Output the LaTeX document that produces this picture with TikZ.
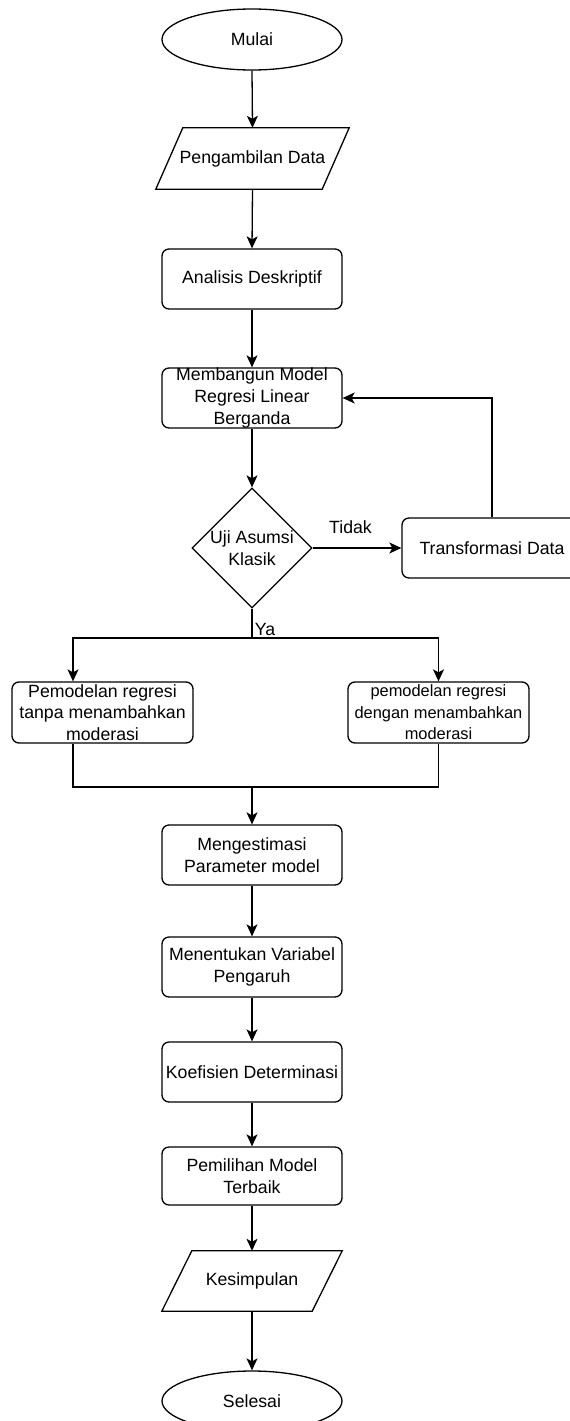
\documentclass[tikz,border=0pt]{standalone}
\usepackage{fontspec}
\setmainfont{Liberation Sans}
\usetikzlibrary{shapes.geometric,arrows.meta}
\begin{document}
\begin{tikzpicture}[x=1pt,y=-1pt,
  every node/.style={font=\fontsize{17.7}{21.7}\selectfont, text=black},
  ln/.style={line width=1.3pt, draw=black},
  arr/.style={ln, -{Stealth[length=12pt,width=11pt,inset=3pt]}},
  box/.style={ln, rounded corners=7pt, minimum width=180pt, minimum height=60pt, inner sep=0pt, align=center},
  oval/.style={ln, ellipse, minimum width=180pt, minimum height=61pt, inner sep=0pt},
  plain/.style={inner sep=0pt, align=center}
]
\useasboundingbox (0,0) rectangle (570,1421);
\clip (0,0) rectangle (570,1421);

% nodes
\node[oval] (mulai) at (252,39.5) {Mulai};
\node[plain, minimum width=166pt, minimum height=61pt] (ambil) at (252.5,158.5) {Pengambilan Data};
\draw[ln] ([xshift=-13.5pt]ambil.south west) -- ([xshift=13.5pt]ambil.north west) -- ([xshift=13.5pt]ambil.north east) -- ([xshift=-13.5pt]ambil.south east) -- cycle;
\node[box] (analisis) at (252,279) {Analisis Deskriptif};
\node[box] (bangun) at (252,398) {Membangun Model\\Regresi Linear\\Berganda};
\node[ln, diamond, minimum width=120pt, minimum height=120pt, inner sep=0pt,
      label={[align=center, font=\fontsize{17.7}{21.7}\selectfont]center:Uji Asumsi\\Klasik}] (uji) at (252,548) {};
\node[box] (trans) at (492,548) {Transformasi Data};
\node[box, minimum width=181pt, minimum height=61pt] (kiri) at (102.5,712.5) {Pemodelan regresi\\tanpa menambahkan\\moderasi};
\node[box, minimum width=181pt, minimum height=61pt, font=\fontsize{16.4}{21.5}\selectfont] (kanan) at (438.5,712.5) {pemodelan regresi\\dengan menambahkan\\moderasi};
\node[box] (estimasi) at (252,855) {Mengestimasi\\Parameter model};
\node[box] (tentukan) at (252,967) {Menentukan Variabel\\Pengaruh};
\node[box] (koef) at (252,1072) {Koefisien Determinasi};
\node[box, minimum height=58pt] (pilih) at (252,1176) {Pemilihan Model\\Terbaik};
\node[plain, minimum width=150pt, minimum height=60pt] (simpul) at (252,1281) {Kesimpulan};
\draw[ln] ([xshift=-15pt]simpul.south west) -- ([xshift=15pt]simpul.north west) -- ([xshift=15pt]simpul.north east) -- ([xshift=-15pt]simpul.south east) -- cycle;
\node[oval, minimum height=60pt] (selesai) at (252,1401) {Selesai};

\node[plain] (tidak) at (350.5,527) {Tidak};
\node[plain] (ya) at (265,629) {Ya};

\coordinate (split) at (252,638);
\coordinate (merge) at (252,787);

% connectors
\draw[arr] (mulai.south) -- (ambil.north);
\draw[arr] (ambil.south) -- (analisis.north);
\draw[arr] (analisis.south) -- (bangun.north);
\draw[arr] (bangun.south) -- (uji.north);
\draw[arr] (uji.east) -- (trans.west);
\draw[arr] (trans.north) |- (bangun.east);
\draw[ln] (uji.south) -- (split);
\draw[arr] (split) -| ([xshift=-29.5pt]kiri.north);
\draw[arr] (split) -| (kanan.north);
\draw[ln] ([xshift=-29.5pt]kiri.south) |- (merge) -| (kanan.south);
\draw[arr] (merge) -- (estimasi.north);
\draw[arr] (estimasi.south) -- (tentukan.north);
\draw[arr] (tentukan.south) -- (koef.north);
\draw[arr] (koef.south) -- (pilih.north);
\draw[arr] (pilih.south) -- (simpul.north);
\draw[arr] (simpul.south) -- (selesai.north);
\end{tikzpicture}
\end{document}
